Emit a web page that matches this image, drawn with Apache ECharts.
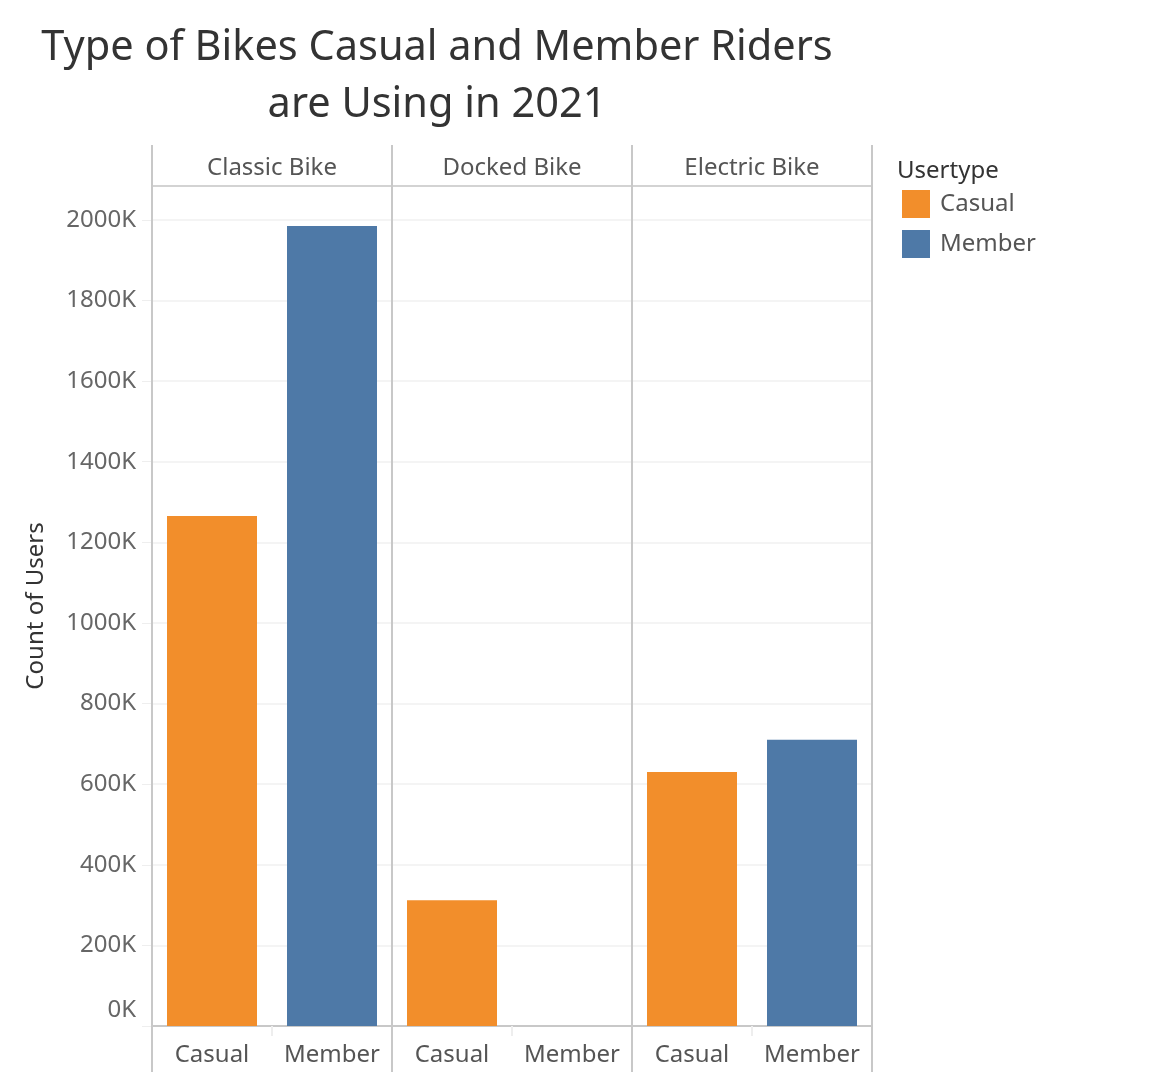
<!DOCTYPE html>
<html>
<head>
<meta charset="utf-8">
<script src="https://cdn.jsdelivr.net/npm/echarts@6/dist/echarts.min.js"></script>
<style>html,body{margin:0;padding:0;background:#fff}#chart{width:1176px;height:1072px}</style>
</head>
<body>
<div id="chart"></div>
<script>
const facets = ['Classic Bike', 'Docked Bike', 'Electric Bike'];
const userTypes = ['Casual', 'Member'];
const casualValues = [1265000, 312000, 630000];
const memberValues = [1985000, 0, 710000];
const yTicks = [0, 200000, 400000, 600000, 800000, 1000000, 1200000, 1400000, 1600000, 1800000, 2000000];

const FONT = 'Noto Sans';
const colors = { Casual: '#F28E2B', Member: '#4E79A7' };
const panelLeft = 152, panelW = 240, gridTop = 186, gridBottom = 46;
const yMax = 2084000;

const grids = [], xAxes = [], yAxes = [], series = [];
facets.forEach((f, i) => {
  grids.push({ left: panelLeft + i * panelW, width: panelW, top: gridTop, bottom: gridBottom, containLabel: false });
  xAxes.push({
    type: 'category', gridIndex: i, data: userTypes, position: 'bottom',
    axisLine: { show: true, lineStyle: { color: '#c8c8c8', width: 2 } },
    axisTick: { show: true, interval: 0, length: 10, lineStyle: { color: '#eeeeee', width: 2 } },
    axisLabel: { interval: 0, hideOverlap: false, fontFamily: FONT, fontSize: 24, color: '#555', margin: 17 }
  });
  xAxes.push({
    type: 'category', gridIndex: i, data: [f], position: 'top',
    axisLine: { show: true, lineStyle: { color: '#c8c8c8', width: 1.5 } },
    axisTick: { show: false },
    axisLabel: { interval: 0, fontFamily: FONT, fontSize: 24, color: '#555', margin: 6 }
  });
  yAxes.push({
    type: 'value', gridIndex: i, min: 0, max: yMax, interval: 200000,
    name: i === 0 ? 'Count of Users' : '',
    nameLocation: 'middle', nameRotate: 90, nameGap: 104,
    nameTextStyle: { fontFamily: FONT, fontSize: 24, color: '#333' },
    axisLine: { show: false },
    axisTick: { show: i === 0, length: 10, lineStyle: { color: '#eeeeee' } },
    axisLabel: {
      show: i === 0, fontFamily: FONT, fontSize: 24, color: '#666', margin: 16,
      showMaxLabel: false,
      formatter: v => (yTicks.includes(v) ? (v === 0 ? '{z|0K}' : (v / 1000) + 'K') : ''),
      rich: { z: { fontFamily: FONT, fontSize: 24, color: '#666', padding: [0, 0, 32, 0] } }
    },
    splitLine: { show: true, lineStyle: { color: '#f0f0f0', width: 1.5 } }
  });
  series.push({
    name: 'Casual', type: 'bar', xAxisIndex: i * 2, yAxisIndex: i, stack: 's' + i,
    barCategoryGap: '25%', itemStyle: { color: colors.Casual },
    data: [casualValues[i], null]
  });
  series.push({
    name: 'Member', type: 'bar', xAxisIndex: i * 2, yAxisIndex: i, stack: 's' + i,
    barCategoryGap: '25%', itemStyle: { color: colors.Member },
    data: [null, memberValues[i]]
  });
});

const sepLines = [0, 1, 2, 3].map(k => ({
  type: 'line', z: 10,
  shape: { x1: panelLeft + k * panelW, y1: 145, x2: panelLeft + k * panelW, y2: 1072 },
  style: { stroke: '#c8c8c8', lineWidth: 2 }
}));

const chart = echarts.init(document.getElementById('chart'), null, { renderer: 'canvas' });
chart.setOption({
  backgroundColor: '#fff',
  animation: false,
  title: [
    {
      text: 'Type of Bikes Casual and Member Riders\nare Using in 2021',
      left: 432, top: 15, textAlign: 'center',
      textStyle: { fontFamily: FONT, fontSize: 41.5, fontWeight: 'normal', color: '#333', lineHeight: 57, align: 'center' }
    },
    {
      text: 'Usertype', left: 892, top: 154,
      textStyle: { fontFamily: FONT, fontSize: 24, fontWeight: 'normal', color: '#333' }
    }
  ],
  legend: {
    data: userTypes, orient: 'vertical', left: 897, top: 185,
    icon: 'rect', itemWidth: 28, itemHeight: 28, itemGap: 12,
    textStyle: { fontFamily: FONT, fontSize: 24, color: '#555', padding: [0, 0, 6, 5] }
  },
  grid: grids, xAxis: xAxes, yAxis: yAxes, series: series,
  graphic: sepLines
});
</script>
</body>
</html>
